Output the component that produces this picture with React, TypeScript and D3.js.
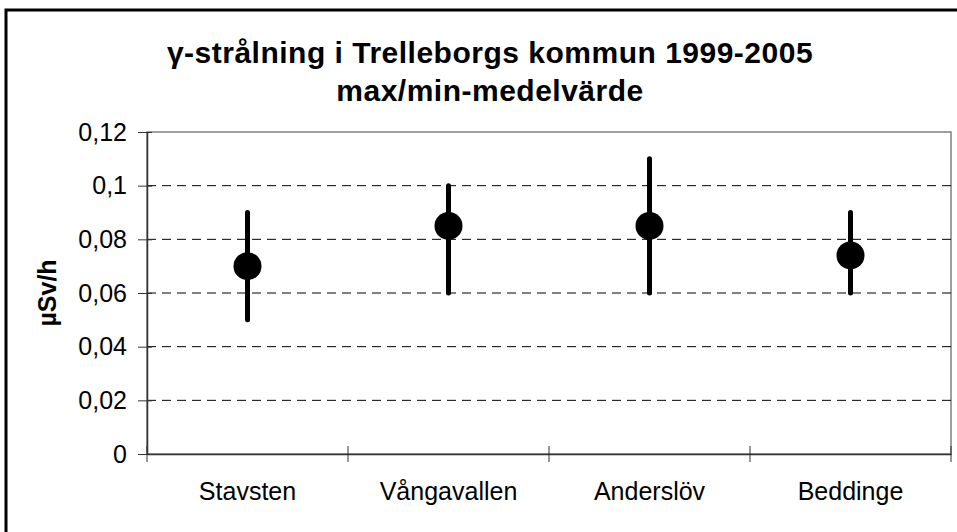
import { useEffect, useRef } from "react"
import * as d3 from "d3"

const stations = ["Stavsten", "Vångavallen", "Anderslöv", "Beddinge"]
const meanValues = [0.07, 0.085, 0.085, 0.074]
const minValues = [0.05, 0.06, 0.06, 0.06]
const maxValues = [0.09, 0.1, 0.11, 0.09]
const yTicks = [0, 0.02, 0.04, 0.06, 0.08, 0.1, 0.12]

const titleLines = ["γ-strålning i Trelleborgs kommun 1999-2005", "max/min-medelvärde"]
const yAxisTitle = "µSv/h"

export default function App() {
    const svgRef = useRef(null)

    useEffect(() => {
        document.body.style.margin = "0"
        const width = 957
        const height = 532
        const plot = { left: 147, top: 132, right: 951, bottom: 454 }
        const font = "'Liberation Sans', Arial, sans-serif"

        const svg = d3.select(svgRef.current)
        svg.selectAll("*").remove()
        svg.attr("width", width).attr("height", height).style("font-family", font)

        svg.append("rect")
            .attr("width", width)
            .attr("height", height)
            .attr("fill", "#fff")

        // outer chart border (runs off the right and bottom edges)
        svg.append("rect")
            .attr("x", 6)
            .attr("y", 10)
            .attr("width", 972)
            .attr("height", 540)
            .attr("fill", "none")
            .attr("stroke", "#000")
            .attr("stroke-width", 3)

        const x = d3.scaleBand().domain(stations).range([plot.left, plot.right])
        const y = d3.scaleLinear().domain([0, 0.12]).range([plot.bottom, plot.top])
        const fmt = (d) => String(d).replace(".", ",")

        // plot frame
        svg.append("rect")
            .attr("x", plot.left)
            .attr("y", plot.top)
            .attr("width", plot.right - plot.left)
            .attr("height", plot.bottom - plot.top)
            .attr("fill", "none")
            .attr("stroke", "#808080")
            .attr("stroke-width", 1.5)

        // gridlines
        svg.append("g")
            .selectAll("line")
            .data(yTicks.filter((d) => d > 0 && d < 0.12))
            .enter()
            .append("line")
            .attr("x1", plot.left)
            .attr("x2", plot.right)
            .attr("y1", (d) => y(d))
            .attr("y2", (d) => y(d))
            .attr("stroke", "#000")
            .attr("stroke-dasharray", "9,6")
            .attr("stroke-width", 1)

        // y axis
        const yAxis = svg.append("g")
            .attr("transform", `translate(${plot.left},0)`)
            .call(d3.axisLeft(y).tickValues(yTicks).tickFormat(fmt).tickSizeInner(9).tickSizeOuter(0).tickPadding(11))
        yAxis.select(".domain").attr("stroke", "#333").attr("stroke-width", 1.5)
        yAxis.selectAll(".tick line").attr("stroke", "#333").attr("x1", 5)
        yAxis.selectAll(".tick text")
            .attr("fill", "#000")
            .style("font-size", "25px")
            .style("font-family", font)

        // x axis
        const xAxis = svg.append("g")
            .attr("transform", `translate(0,${plot.bottom})`)
            .call(d3.axisBottom(x).tickSize(0).tickPadding(28))
        xAxis.select(".domain").attr("stroke", "#333").attr("stroke-width", 1.5)
        xAxis.selectAll(".tick text")
            .attr("fill", "#000")
            .style("font-size", "25px")
            .style("font-family", font)
        svg.append("g")
            .selectAll("line")
            .data(d3.range(stations.length + 1))
            .enter()
            .append("line")
            .attr("x1", (i) => plot.left + i * x.step())
            .attr("x2", (i) => plot.left + i * x.step())
            .attr("y1", plot.bottom - 8)
            .attr("y2", plot.bottom + 8)
            .attr("stroke", "#333")

        // min-max bars
        svg.append("g")
            .selectAll("line")
            .data(stations)
            .enter()
            .append("line")
            .attr("x1", (d) => x(d) + x.bandwidth() / 2)
            .attr("x2", (d) => x(d) + x.bandwidth() / 2)
            .attr("y1", (d, i) => y(minValues[i]))
            .attr("y2", (d, i) => y(maxValues[i]))
            .attr("stroke", "#000")
            .attr("stroke-width", 5)
            .attr("stroke-linecap", "round")

        // mean markers
        svg.append("g")
            .selectAll("circle")
            .data(stations)
            .enter()
            .append("circle")
            .attr("cx", (d) => x(d) + x.bandwidth() / 2)
            .attr("cy", (d, i) => y(meanValues[i]))
            .attr("r", 14)
            .attr("fill", "#000")

        // title
        svg.append("g")
            .selectAll("text")
            .data(titleLines)
            .enter()
            .append("text")
            .attr("x", 490)
            .attr("y", (d, i) => 63 + i * 38)
            .attr("text-anchor", "middle")
            .style("font-size", "30px")
            .style("font-weight", "bold")
            .style("letter-spacing", "0.5px")
            .text((d) => d)

        svg.append("text")
            .attr("transform", `translate(56,${(plot.top + plot.bottom) / 2}) rotate(-90)`)
            .attr("text-anchor", "middle")
            .style("font-size", "25px")
            .style("font-weight", "bold")
            .text(yAxisTitle)
    }, [])

    return (
        <div>
            <svg ref={svgRef} style={{ display: "block" }}></svg>
        </div>
    )
}
